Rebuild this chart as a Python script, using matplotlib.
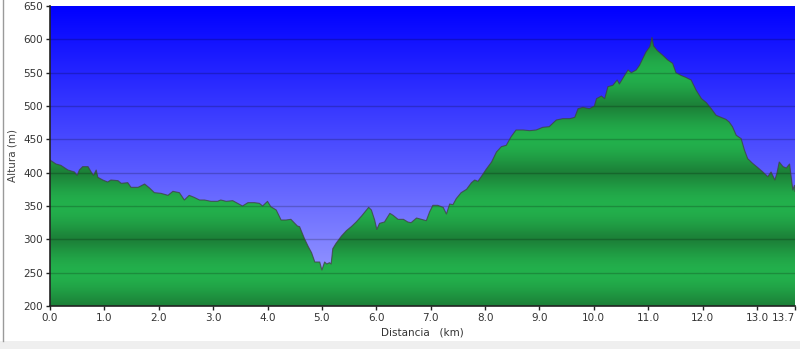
import numpy as np
import matplotlib
matplotlib.use("Agg")
import matplotlib.pyplot as plt
from matplotlib.patches import Polygon, Rectangle
from matplotlib.colors import LinearSegmentedColormap
from matplotlib.lines import Line2D

# ---- data -----------------------------------------------------------
distance_km = [
    0.0, 0.11, 0.2, 0.33, 0.45, 0.5, 0.54, 0.6, 0.7, 0.75, 0.8, 0.85, 0.88, 0.97,
    1.06, 1.12, 1.25, 1.31, 1.43, 1.49, 1.62, 1.74, 1.83, 1.92, 2.04, 2.17, 2.26,
    2.38, 2.47, 2.56, 2.65, 2.75, 2.84, 2.96, 3.08, 3.14, 3.24, 3.36, 3.45, 3.54,
    3.64, 3.76, 3.85, 3.91, 4.0, 4.06, 4.16, 4.25, 4.34, 4.43, 4.49, 4.55, 4.59,
    4.68, 4.75, 4.81, 4.87, 4.96, 5.0, 5.05, 5.09, 5.14, 5.17, 5.2, 5.26, 5.36,
    5.45, 5.54, 5.63, 5.73, 5.82, 5.86, 5.91, 5.97, 6.01, 6.06, 6.15, 6.25, 6.31,
    6.4, 6.5, 6.58, 6.64, 6.74, 6.83, 6.92, 6.98, 7.04, 7.13, 7.23, 7.29, 7.35,
    7.41, 7.47, 7.56, 7.66, 7.75, 7.81, 7.87, 7.93, 8.02, 8.12, 8.21, 8.3, 8.39,
    8.48, 8.57, 8.7, 8.82, 8.94, 9.06, 9.18, 9.31, 9.43, 9.56, 9.65, 9.71, 9.8,
    9.92, 10.01, 10.05, 10.14, 10.2, 10.26, 10.35, 10.43, 10.47, 10.56, 10.63,
    10.69, 10.78, 10.84, 10.9, 10.96, 11.03, 11.07, 11.1, 11.17, 11.27, 11.36,
    11.45, 11.51, 11.6, 11.69, 11.79, 11.88, 11.98, 12.07, 12.16, 12.25, 12.34,
    12.43, 12.49, 12.55, 12.62, 12.71, 12.77, 12.83, 12.92, 13.01, 13.11, 13.2,
    13.26, 13.33, 13.37, 13.41, 13.48, 13.54, 13.6, 13.63, 13.66, 13.69, 13.7,
]
altitude_m = [
    419, 413, 411, 404, 401, 396, 404, 409, 409, 402, 396, 404, 393, 389,
    386, 389, 388, 384, 385, 378, 378, 383, 377, 370, 369, 366, 372,
    370, 359, 366, 363, 359, 359, 357, 357, 359, 357, 358, 354, 350,
    355, 355, 354, 350, 357, 349, 344, 329, 329, 330, 325, 320, 319,
    301, 289, 280, 266, 266, 254, 266, 263, 265, 263, 286, 294, 305,
    313, 319, 326, 335, 344, 348, 344, 329, 315, 324, 326, 339, 336,
    330, 330, 326, 325, 332, 330, 328, 341, 351, 351, 348, 338, 353,
    352, 361, 370, 375, 385, 389, 387, 394, 405, 416, 431, 439, 441,
    454, 464, 464, 463, 464, 468, 469, 479, 481, 481, 483, 496, 498,
    496, 500, 511, 515, 511, 529, 531, 539, 533, 545, 554,
    550, 554, 561, 571, 581, 589, 603, 590, 583, 576, 569,
    564, 550, 546, 543, 539, 524, 511, 505, 496, 486, 483,
    480, 476, 469, 456, 451, 434, 421, 414, 408, 401, 394,
    401, 389, 400, 416, 409, 407, 413, 394, 374, 381, 372,
]
x_ticks = [0.0, 1.0, 2.0, 3.0, 4.0, 5.0, 6.0, 7.0, 8.0, 9.0, 10.0, 11.0, 12.0, 13.0, 13.7]
x_tick_labels = ["0.0", "1.0", "2.0", "3.0", "4.0", "5.0", "6.0", "7.0", "8.0",
                 "9.0", "10.0", "11.0", "12.0", "13.0", "13.7"]
y_ticks = [200, 250, 300, 350, 400, 450, 500, 550, 600, 650]

X_MIN, X_MAX = 0.0, 13.7
Y_MIN, Y_MAX = 200, 650

# ---- figure ---------------------------------------------------------
fig = plt.figure(figsize=(8.0, 3.49), dpi=100)
fig.patch.set_facecolor("white")

# screenshot frame: left border line and gray bottom band
fig.add_artist(Rectangle((0, 0), 1, 8 / 349, transform=fig.transFigure,
                         facecolor="#efefef", edgecolor="none", zorder=0))
fig.add_artist(Line2D([3.0 / 800, 3.0 / 800], [8 / 349, 1], transform=fig.transFigure,
                      color="#9a9a9a", lw=1.0))

ax = fig.add_axes([50 / 800, 43 / 349, 745 / 800, 300 / 349])
ax.set_xlim(X_MIN, X_MAX)
ax.set_ylim(Y_MIN, Y_MAX)

# blue sky gradient background
sky = LinearSegmentedColormap.from_list("sky", [(0.0, "#a4a6ff"), (1.0, "#0000ff")])
grad = np.linspace(0, 1, 256).reshape(-1, 1)
ax.imshow(grad, extent=[X_MIN, X_MAX, Y_MIN, Y_MAX], origin="lower",
          aspect="auto", cmap=sky, zorder=0, interpolation="bilinear")

# green banded gradient clipped to the profile
levels = np.linspace(Y_MIN, Y_MAX, 900)
shade = (0.5 - 0.5 * np.cos(2 * np.pi * (levels - 200) / 100.0)) ** 0.6
green = LinearSegmentedColormap.from_list("green", ["#1c8038", "#23b04c"])
im = ax.imshow(shade.reshape(-1, 1), extent=[X_MIN, X_MAX, Y_MIN, Y_MAX],
               origin="lower", aspect="auto", cmap=green, vmin=0, vmax=1,
               zorder=1, interpolation="bilinear")
verts = [(distance_km[0], Y_MIN)] + list(zip(distance_km, altitude_m)) + [(distance_km[-1], Y_MIN)]
poly = Polygon(verts, closed=True, facecolor="none", edgecolor="none", transform=ax.transData)
ax.add_patch(poly)
im.set_clip_path(poly)

# profile outline
ax.plot(distance_km, altitude_m, color="#404040", lw=0.8, alpha=0.75, zorder=3)

# horizontal grid lines
for yv in y_ticks[1:-1]:
    ax.axhline(yv, color="black", lw=1.0, alpha=0.2, zorder=2)

# axes styling
for side in ("top", "right"):
    ax.spines[side].set_visible(False)
for side in ("left", "bottom"):
    ax.spines[side].set_color("#222222")
    ax.spines[side].set_linewidth(1.2)
    ax.spines[side].set_zorder(4)

ax.set_xticks(x_ticks)
ax.set_xticklabels(x_tick_labels)
ax.set_yticks(y_ticks)
ax.set_yticklabels([str(v) for v in y_ticks])
ax.tick_params(axis="both", direction="out", length=3, width=1, color="#222222",
               labelsize=7.5, labelcolor="#333333", pad=2)
ax.get_xticklabels()[-1].set_horizontalalignment("right")

ax.set_ylabel("Altura (m)", fontsize=7.5, color="#444444", labelpad=4)
ax.set_xlabel("Distancia   (km)", fontsize=7.5, color="#333333", labelpad=3)

fig.savefig("out.png", dpi=100, facecolor=fig.get_facecolor())
